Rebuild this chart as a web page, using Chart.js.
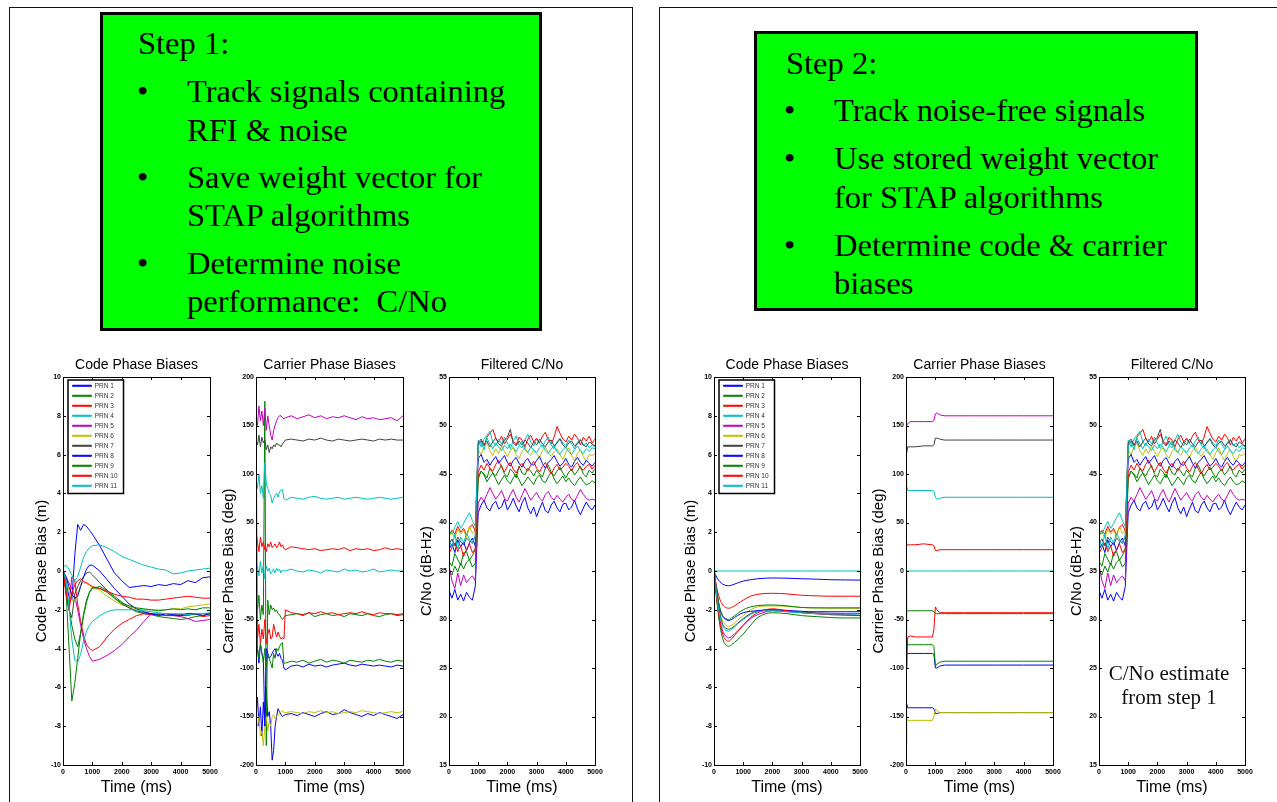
<!DOCTYPE html>
<html>
<head>
<meta charset="utf-8">
<script src="https://cdn.jsdelivr.net/npm/chart.js@4.4.1/dist/chart.umd.min.js"></script>
<style>
  html, body { margin: 0; padding: 0; background: #fff; }
  body { width: 1277px; height: 802px; position: relative; overflow: hidden; }
  .panel { position: absolute; border: 1.5px solid #111; box-sizing: border-box; }
  .step { position: absolute; background: #00ff00; border: 3px solid #000; box-sizing: border-box; }
  .txt { position: absolute; font-family: 'Liberation Serif', 'Times New Roman', serif; font-size: 32.5px; line-height: 40px; white-space: nowrap; color: #000; }
  .note { position: absolute; left: 1069px; top: 661px; width: 200px; text-align: center; font-family: 'Liberation Serif', 'Times New Roman', serif; font-size: 21px; line-height: 24px; color: #111; }
  canvas { position: absolute; top: 350px; }
</style>
</head>
<body>
<div class="panel" style="left:9px; top:7px; width:624px; height:900px;"></div>
<div class="panel" style="left:659px; top:7px; width:700px; height:900px;"></div>

<div class="step" style="left:100px; top:12px; width:442px; height:319px;"></div>
<div class="txt" style="left:138px; top:23px;">Step 1:</div>
<div class="txt" style="left:137px; top:71px;">•</div>
<div class="txt" style="left:187px; top:71px;">Track signals containing</div>
<div class="txt" style="left:187px; top:110px;">RFI &amp; noise</div>
<div class="txt" style="left:137px; top:157px;">•</div>
<div class="txt" style="left:187px; top:157px;">Save weight vector for</div>
<div class="txt" style="left:187px; top:195px;">STAP algorithms</div>
<div class="txt" style="left:137px; top:243px;">•</div>
<div class="txt" style="left:187px; top:243px;">Determine noise</div>
<div class="txt" style="left:187px; top:281px;">performance:&nbsp; C/No</div>

<div class="step" style="left:754px; top:31px; width:444px; height:280px;"></div>
<div class="txt" style="left:786px; top:43px;">Step 2:</div>
<div class="txt" style="left:784px; top:90px;">•</div>
<div class="txt" style="left:834px; top:90px;">Track noise-free signals</div>
<div class="txt" style="left:784px; top:138px;">•</div>
<div class="txt" style="left:834px; top:138px;">Use stored weight vector</div>
<div class="txt" style="left:834px; top:177px;">for STAP algorithms</div>
<div class="txt" style="left:784px; top:225px;">•</div>
<div class="txt" style="left:834px; top:225px;">Determine code &amp; carrier</div>
<div class="txt" style="left:834px; top:263px;">biases</div>

<canvas id="codeStep1"></canvas>
<canvas id="carrierStep1"></canvas>
<canvas id="cnoStep1"></canvas>
<canvas id="codeStep2"></canvas>
<canvas id="carrierStep2"></canvas>
<canvas id="cnoStep2"></canvas>

<div class="note">C/No estimate<br>from step 1</div>

<script>
// ---- labels / colours ----
const prnLabels = ['PRN 1', 'PRN 2', 'PRN 3', 'PRN 4', 'PRN 5', 'PRN 6', 'PRN 7', 'PRN 8', 'PRN 9', 'PRN 10', 'PRN 11'];
const prnColors = ['#0000ff', '#008000', '#ff0000', '#00bfbf', '#bf00bf', '#bfbf00', '#404040', '#0000ff', '#008000', '#ff0000', '#00bfbf'];

// ---- Step 1: code phase biases (m) ----
const timeCode1 = [0, 100, 200, 300, 400, 500, 600, 700, 800, 900, 1000, 1250, 1500, 1750, 2000, 2250, 2500, 2750, 3000, 3250, 3500, 3750, 4000, 4250, 4500, 4750, 5000];
const code1Prn1 = [0, -0.5, -1.3, -1.5, 0.8, 2.4, 2.1, 2.4, 2.3, 2.1, 1.9, 1.3, 0.6, -0.1, -0.5, -0.85, -0.8, -0.75, -0.8, -0.7, -0.75, -0.65, -0.7, -0.5, -0.6, -0.35, -0.3];
const code1Prn2 = [0, -1.0, -3.8, -6.7, -5.8, -4.5, -3.2, -2.3, -1.6, -1.1, -0.9, -0.8, -1.0, -1.3, -1.6, -1.9, -2.1, -2.2, -2.25, -2.35, -2.4, -2.45, -2.5, -2.45, -2.35, -2.3, -2.2];
const code1Prn3 = [0, -1.2, -1.9, -0.3, -0.5, -1.7, -2.6, -3.3, -3.8, -4.0, -4.1, -3.9, -3.4, -3.0, -2.7, -2.5, -2.3, -2.2, -2.25, -2.2, -2.3, -2.25, -2.3, -2.3, -2.2, -2.35, -2.3];
const code1Prn4 = [0.2, 0.3, 0.1, -0.2, -0.5, -0.3, 0.2, 0.7, 1.0, 1.2, 1.3, 1.35, 1.2, 1.0, 0.75, 0.6, 0.45, 0.3, 0.2, 0.1, 0.05, -0.15, -0.1, 0.0, 0.05, 0.1, 0.15];
const code1Prn5 = [0, -0.3, -0.6, -0.9, -1.3, -2.0, -2.8, -3.5, -4.0, -4.4, -4.65, -4.55, -4.35, -4.1, -3.8, -3.4, -3.05, -2.6, -2.2, -2.25, -2.3, -2.3, -2.35, -2.45, -2.6, -2.55, -2.5];
const code1Prn6 = [0, -0.4, -1.0, -1.5, -1.6, -1.2, -0.7, -0.6, -0.65, -0.75, -0.85, -1.0, -1.3, -1.55, -1.75, -1.85, -1.95, -2.0, -2.0, -2.0, -2.0, -1.95, -1.95, -1.85, -1.8, -1.75, -1.7];
const code1Prn7 = [0, -1.0, -2.0, -2.4, -1.2, -0.8, -0.5, -0.3, -0.1, -0.05, -0.2, -0.6, -1.0, -1.4, -1.7, -1.9, -2.05, -2.15, -2.2, -2.25, -2.2, -2.3, -2.25, -2.2, -2.25, -2.2, -2.2];
const code1Prn8 = [0, -0.3, -0.8, -1.2, -1.4, -1.3, -0.8, -0.3, 0.1, 0.3, 0.3, 0.0, -0.45, -0.9, -1.3, -1.7, -1.95, -2.1, -2.2, -2.3, -2.2, -2.25, -2.3, -2.2, -2.2, -2.3, -2.2];
const code1Prn9 = [0, -0.6, -1.8, -2.8, -3.5, -3.9, -3.2, -2.2, -1.5, -1.1, -0.85, -0.9, -1.1, -1.4, -1.65, -1.8, -1.9, -1.95, -2.0, -2.05, -2.0, -1.95, -2.0, -1.95, -2.0, -1.9, -1.9];
const code1Prn10 = [0, -1.0, -2.0, -1.2, -0.7, -0.5, -0.4, -0.55, -0.6, -0.7, -0.8, -0.9, -1.05, -1.2, -1.3, -1.35, -1.45, -1.45, -1.5, -1.5, -1.45, -1.4, -1.35, -1.3, -1.35, -1.4, -1.4];
const code1Prn11 = [0, -0.5, -1.8, -3.5, -4.6, -4.7, -4.3, -3.6, -3.1, -2.8, -2.6, -2.3, -2.1, -2.0, -2.0, -2.0, -2.0, -2.05, -2.1, -2.15, -2.2, -2.2, -2.2, -2.25, -2.2, -2.2, -2.15];

// ---- Step 1: carrier phase biases (deg) ----
const timeCarrier1 = [0, 50, 100, 150, 200, 250, 300, 350, 400, 450, 500, 550, 600, 650, 700, 750, 800, 850, 900, 950, 1000,
  1200, 1400, 1600, 1800, 2000, 2200, 2400, 2600, 2800, 3000, 3200, 3400, 3600, 3800, 4000, 4200, 4400, 4600, 4800, 5000];
const carrier1Prn1 = [-150, -130, -160, -140, -170, -135, -160, -120, -150, -145, -160, -195, -185, -160, -150, -142, -145, -148, -150, -149, -148,
  -147, -149, -146, -148, -150, -147, -145, -148, -147, -143, -146, -148, -150, -147, -149, -146, -148, -150, -152, -148];
const carrier1Prn2 = [-30, -40, -25, -50, -35, -45, 175, -180, -30, -45, -35, -40, -38, -42, -40, -44, -45, -48, -50, -48, -46,
  -45, -44, -46, -43, -47, -45, -44, -46, -45, -47, -44, -45, -46, -44, -46, -47, -45, -44, -46, -45];
const carrier1Prn3 = [40, 30, 20, 35, 25, 30, 22, 20, 28, 25, 30, 24, 26, 28, 24, 26, 30, 25, 27, 23, 22,
  25, 24, 23, 22, 23, 21, 22, 23, 22, 24, 21, 23, 22, 23, 21, 22, 24, 22, 23, 22];
const carrier1Prn4 = [95, 85, 100, 80, 88, 75, 112, 90, 85, 80, 78, 70, 75, 78, 80, 76, 82, 83, 84, 75, 73,
  76, 75, 74, 76, 77, 75, 74, 75, 76, 74, 75, 76, 75, 74, 75, 76, 75, 74, 75, 76];
const carrier1Prn5 = [160, 150, 170, 155, 165, 150, 168, 145, 160, 150, 140, 135, 145, 150, 155, 158, 160, 160, 158, 157, 158,
  160, 157, 159, 161, 158, 160, 157, 159, 158, 160, 158, 156, 159, 157, 158, 156, 157, 158, 155, 160];
const carrier1Prn6 = [-155, -160, -150, -170, -165, -180, -160, -150, -165, -155, -160, -150, -148, -152, -150, -148, -147, -145, -144, -146, -146,
  -145, -146, -147, -145, -146, -144, -146, -145, -147, -146, -145, -146, -144, -145, -146, -147, -146, -145, -146, -145];
const carrier1Prn7 = [135, 130, 140, 128, 138, 132, 135, 125, 130, 122, 128, 126, 130, 128, 132, 130, 130, 128, 131, 133, 135,
  136, 135, 134, 136, 135, 137, 135, 134, 136, 135, 134, 135, 136, 135, 134, 136, 135, 136, 135, 135];
const carrier1Prn8 = [-90, -80, -95, -75, -85, -90, -160, -80, -85, -90, -88, -85, -82, -80, -85, -88, -85, -90, -92, -100, -102,
  -98, -97, -99, -96, -98, -97, -99, -97, -96, -95, -97, -98, -96, -97, -98, -97, -98, -99, -97, -98];
const carrier1Prn9 = [180, -80, -90, -75, -85, -95, -80, -100, -85, -90, -95, -100, -85, -90, -80, -82, -78, -75, -74, -95, -95,
  -93, -94, -92, -95, -93, -91, -94, -92, -93, -95, -92, -93, -94, -92, -93, -91, -93, -94, -92, -93];
const carrier1Prn10 = [-50, -70, -55, -75, -60, -70, -50, -75, -65, -60, -70, -68, -55, -62, -68, -63, -67, -70, -69, -70, -40,
  -43, -44, -45, -43, -44, -42, -44, -43, -45, -44, -43, -44, -42, -44, -45, -43, -44, -44, -45, -44];
const carrier1Prn11 = [0, 5, -5, 10, -2, 6, -8, 5, 0, 3, -3, -1, 2, -2, 3, 0, 2, -2, 1, 0, 0,
  2, 0, -1, 1, 0, -2, 1, 0, -1, 2, 0, 1, -1, 0, 2, -1, 0, 1, 0, 0];

// ---- Filtered C/No (dB-Hz), same estimate in both steps ----
const timeCno = [0, 100, 200, 300, 400, 500, 600, 700, 800, 900,
  1000, 1100, 1200, 1300, 1400, 1500, 1600, 1700, 1800, 1900,
  2000, 2100, 2200, 2300, 2400, 2500, 2600, 2700, 2800, 2900,
  3000, 3100, 3200, 3300, 3400, 3500, 3600, 3700, 3800, 3900,
  4000, 4100, 4200, 4300, 4400, 4500, 4600, 4700, 4800, 4900, 5000];
const cnoPrn1 = [33.0, 32.2, 33.1, 32.0, 32.6, 31.9, 32.8, 32.3, 32.0, 33.4,
  41.0, 41.8, 42.3, 41.5, 41.2, 41.9, 42.2, 41.4, 41.6, 42.4,
  41.3, 41.8, 42.5, 41.7, 41.1, 42.0, 42.6, 41.5, 40.9, 41.6,
  40.6, 41.4, 42.1, 41.2, 41.0, 41.8, 42.2, 41.5, 41.1, 41.9,
  42.0, 41.3, 41.6, 42.3, 41.4, 40.8, 41.5, 42.1, 41.6, 41.3, 41.8];
const cnoPrn2 = [36.0, 35.5, 36.8, 36.2, 35.6, 36.9, 37.0, 36.1, 36.6, 37.2,
  44.5, 45.3, 45.0, 44.6, 45.6, 45.1, 44.8, 45.4, 45.9, 45.0,
  44.7, 45.5, 45.2, 44.6, 45.8, 45.1, 44.9, 45.6, 45.3, 44.8,
  45.4, 45.0, 44.7, 45.6, 45.9, 45.2, 44.8, 45.3, 45.7, 45.1,
  44.6, 45.2, 45.5, 44.9, 45.3, 45.8, 45.0, 44.7, 45.4, 45.1, 45.5];
const cnoPrn3 = [38.6, 39.2, 38.8, 39.6, 39.0, 39.4, 38.7, 39.5, 39.8, 39.1,
  48.0, 48.4, 47.9, 48.8, 49.2, 49.6, 48.7, 48.3, 48.9, 48.1,
  48.6, 49.1, 48.4, 48.0, 48.8, 48.5, 47.8, 48.6, 49.0, 48.3,
  48.7, 48.2, 48.9, 49.3, 48.5, 48.1, 48.8, 49.9, 49.2, 48.6,
  48.3, 48.9, 48.5, 49.1, 48.7, 48.0, 48.8, 48.4, 48.9, 48.2, 48.6];
const cnoPrn4 = [39.2, 38.8, 39.5, 40.1, 39.4, 39.9, 40.5, 41.0, 40.2, 39.6,
  48.5, 47.8, 48.6, 49.0, 49.4, 48.3, 47.9, 48.6, 48.1, 48.8,
  48.2, 47.6, 48.4, 48.9, 48.0, 47.7, 48.5, 49.1, 48.3, 47.9,
  48.6, 48.1, 47.8, 48.4, 48.8, 48.0, 47.6, 48.3, 48.7, 48.2,
  47.9, 48.5, 48.1, 47.6, 48.3, 48.6, 47.9, 48.2, 47.7, 48.0, 47.8];
const cnoPrn5 = [35.6, 34.0, 33.2, 34.8, 33.5, 34.6, 33.8, 34.2, 34.5, 34.0,
  42.0, 42.6, 42.2, 42.9, 43.6, 43.0, 42.4, 42.8, 43.3, 42.5,
  42.2, 42.9, 43.4, 42.6, 42.1, 42.8, 43.5, 42.9, 42.3, 42.7,
  43.1, 42.5, 42.2, 42.9, 43.2, 42.6, 42.3, 42.8, 42.4, 42.1,
  42.6, 42.9, 42.4, 42.2, 42.8, 43.4, 42.9, 42.5, 42.3, 42.4, 42.3];
const cnoPrn6 = [38.6, 39.0, 38.4, 39.3, 38.8, 39.2, 38.5, 39.6, 38.9, 39.1,
  47.5, 47.0, 47.8, 48.2, 47.4, 46.9, 47.6, 47.1, 47.9, 47.3,
  46.8, 47.4, 47.7, 47.0, 46.6, 47.3, 47.8, 47.2, 46.9, 47.5,
  47.1, 46.7, 47.4, 47.8, 47.2, 46.8, 47.3, 47.6, 47.0, 46.5,
  47.2, 47.7, 46.9, 46.4, 47.1, 47.5, 46.8, 46.3, 47.0, 46.9, 47.1];
const cnoPrn7 = [37.8, 38.3, 37.6, 38.5, 38.0, 37.7, 38.4, 38.1, 37.9, 38.6,
  48.2, 48.6, 48.0, 48.4, 47.8, 48.3, 48.7, 48.1, 47.9, 48.5,
  48.8, 49.6, 48.2, 47.9, 48.4, 48.0, 48.5, 48.2, 47.7, 48.3,
  48.0, 48.6, 48.1, 47.8, 48.3, 48.5, 47.9, 48.2, 48.6, 48.0,
  47.7, 48.2, 48.4, 47.9, 48.1, 48.5, 48.0, 47.8, 48.3, 48.1, 47.9];
const cnoPrn8 = [37.2, 37.8, 36.9, 38.2, 37.5, 38.0, 37.1, 37.9, 38.4, 37.6,
  46.6, 47.0, 46.2, 46.5, 45.9, 46.4, 46.8, 46.1, 46.5, 46.9,
  46.2, 45.8, 46.4, 46.7, 46.1, 45.7, 46.3, 46.6, 46.0, 45.9,
  46.4, 46.8, 46.1, 45.6, 46.2, 46.5, 46.9, 46.3, 45.8, 46.1,
  46.6, 46.0, 45.7, 46.3, 46.7, 46.2, 45.9, 46.4, 46.1, 45.8, 46.2];
const cnoPrn9 = [35.0, 34.6, 35.5, 34.9, 35.8, 35.2, 35.9, 36.2, 35.4, 35.8,
  44.8, 45.3, 44.9, 44.2, 44.7, 45.1, 44.5, 43.9, 44.4, 44.9,
  44.3, 44.0, 44.6, 45.0, 44.4, 43.8, 44.2, 44.7, 44.3, 43.9,
  44.6, 44.9, 44.3, 44.1, 44.7, 45.2, 44.5, 44.0, 44.4, 44.8,
  44.2, 44.6, 44.1, 43.8, 44.3, 44.7, 44.2, 43.9, 44.0, 44.3, 44.1];
const cnoPrn10 = [36.8, 37.4, 37.9, 37.0, 37.6, 36.5, 37.2, 37.8, 36.9, 37.3,
  45.2, 45.9, 45.4, 46.1, 45.6, 45.3, 46.0, 46.4, 45.7, 45.2,
  45.8, 46.2, 45.5, 45.1, 45.7, 46.1, 45.6, 45.3, 45.9, 46.3,
  45.6, 45.2, 45.8, 46.2, 45.5, 45.0, 45.6, 46.0, 45.4, 45.7,
  46.1, 45.8, 45.3, 45.9, 46.2, 45.6, 45.4, 45.8, 46.0, 45.5, 45.9];
const cnoPrn11 = [38.2, 37.5, 38.8, 37.2, 38.5, 37.9, 38.9, 38.3, 37.8, 38.6,
  47.9, 48.3, 47.5, 48.7, 48.1, 47.6, 48.2, 47.8, 47.4, 48.0,
  47.6, 48.1, 47.7, 47.3, 47.9, 48.4, 47.5, 47.2, 47.8, 47.5,
  47.2, 47.7, 48.0, 47.4, 47.1, 47.6, 47.9, 47.3, 47.0, 47.5,
  47.8, 47.3, 47.0, 47.5, 47.9, 47.4, 47.1, 47.6, 47.3, 47.7, 47.6];

// ---- Step 2: code phase biases (m) ----
const timeCode2 = [0, 100, 200, 300, 400, 500, 600, 800, 1000, 1250, 1500, 2000, 2500, 3000, 3500, 4000, 4500, 5000];
const code2Prn1 = [0, -0.35, -0.55, -0.68, -0.74, -0.76, -0.73, -0.62, -0.52, -0.45, -0.4, -0.36, -0.37, -0.4, -0.42, -0.45, -0.46, -0.47];
const code2Prn2 = [0, -1.6, -2.8, -3.5, -3.8, -3.88, -3.8, -3.55, -3.25, -2.8, -2.4, -2.15, -2.2, -2.3, -2.35, -2.4, -2.42, -2.42];
const code2Prn3 = [0, -0.9, -1.45, -1.75, -1.88, -1.92, -1.88, -1.7, -1.5, -1.3, -1.2, -1.15, -1.18, -1.25, -1.28, -1.3, -1.3, -1.3];
const code2Prn4 = [0, 0, 0, 0, 0, 0, 0, 0, 0, 0, 0, 0, 0, 0, 0, 0, 0, 0];
const code2Prn5 = [0, -1.4, -2.5, -3.1, -3.35, -3.45, -3.38, -3.1, -2.8, -2.45, -2.25, -2.05, -2.1, -2.15, -2.2, -2.25, -2.25, -2.3];
const code2Prn6 = [0, -1.2, -2.1, -2.6, -2.78, -2.85, -2.8, -2.55, -2.3, -2.0, -1.85, -1.8, -1.82, -1.88, -1.9, -1.92, -1.92, -1.92];
const code2Prn7 = [0, -1.3, -2.2, -2.75, -2.95, -3.0, -2.95, -2.7, -2.45, -2.2, -2.05, -2.0, -2.05, -2.12, -2.16, -2.18, -2.2, -2.2];
const code2Prn8 = [0, -1.1, -1.95, -2.35, -2.5, -2.55, -2.5, -2.3, -2.15, -2.08, -2.05, -2.0, -2.03, -2.08, -2.1, -2.1, -2.1, -2.1];
const code2Prn9 = [0, -1.1, -1.9, -2.3, -2.45, -2.5, -2.42, -2.2, -2.0, -1.85, -1.78, -1.75, -1.8, -1.88, -1.9, -1.9, -1.9, -1.9];
const code2Prn10 = [0, -1.5, -2.6, -3.25, -3.55, -3.62, -3.5, -3.15, -2.8, -2.4, -2.15, -1.95, -2.05, -2.15, -2.2, -2.25, -2.28, -2.3];
const code2Prn11 = [0, -1.35, -2.3, -2.85, -3.05, -3.1, -3.02, -2.75, -2.5, -2.25, -2.1, -2.05, -2.1, -2.15, -2.2, -2.22, -2.22, -2.22];

// ---- Step 2: carrier phase biases (deg) ----
const timeCarrier2 = [0, 20, 60, 150, 300, 600, 900, 950, 1000, 1050, 1150, 1300, 2000, 3000, 4000, 5000];
const carrier2Prn1 = [-180, -137, -141, -141, -141, -141, -141, -142, -147, -147, -146, -146, -146, -146, -146, -146];
const carrier2Prn2 = [-50, -42, -41, -41, -41, -41, -41, -42, -44, -44, -44, -44, -44, -44, -44, -44];
const carrier2Prn3 = [30, 26, 27, 27, 27, 28, 27, 26, 21, 21, 22, 22, 22, 22, 22, 22];
const carrier2Prn4 = [95, 88, 83, 83, 83, 83, 83, 82, 76, 74, 75, 76, 76, 76, 76, 76];
const carrier2Prn5 = [145, 150, 152, 154, 154, 154, 154, 155, 162, 163, 161, 160, 160, 160, 160, 160];
const carrier2Prn6 = [-150, -153, -154, -154, -154, -154, -154, -150, -142, -144, -146, -146, -146, -146, -146, -146];
const carrier2Prn7 = [125, 122, 128, 128, 128, 129, 129, 130, 137, 137, 136, 135, 135, 135, 135, 135];
const carrier2Prn8 = [-100, -86, -85, -85, -85, -85, -85, -86, -100, -100, -98, -97, -97, -97, -97, -97];
const carrier2Prn9 = [-100, -78, -76, -76, -76, -76, -76, -78, -98, -96, -94, -93, -93, -93, -93, -93];
const carrier2Prn10 = [0, -100, -68, -67, -68, -68, -68, -60, -37, -40, -43, -43, -43, -43, -43, -43];
const carrier2Prn11 = [0, 0, 0, 0, 0, 0, 0, 0, 0, 0, 0, 0, 0, 0, 0, 0];

const code1Series = [code1Prn1, code1Prn2, code1Prn3, code1Prn4, code1Prn5, code1Prn6, code1Prn7, code1Prn8, code1Prn9, code1Prn10, code1Prn11];
const carrier1Series = [carrier1Prn1, carrier1Prn2, carrier1Prn3, carrier1Prn4, carrier1Prn5, carrier1Prn6, carrier1Prn7, carrier1Prn8, carrier1Prn9, carrier1Prn10, carrier1Prn11];
const cnoSeries = [cnoPrn1, cnoPrn2, cnoPrn3, cnoPrn4, cnoPrn5, cnoPrn6, cnoPrn7, cnoPrn8, cnoPrn9, cnoPrn10, cnoPrn11];
const code2Series = [code2Prn1, code2Prn2, code2Prn3, code2Prn4, code2Prn5, code2Prn6, code2Prn7, code2Prn8, code2Prn9, code2Prn10, code2Prn11];
const carrier2Series = [carrier2Prn1, carrier2Prn2, carrier2Prn3, carrier2Prn4, carrier2Prn5, carrier2Prn6, carrier2Prn7, carrier2Prn8, carrier2Prn9, carrier2Prn10, carrier2Prn11];

Chart.defaults.font.family = "'Liberation Sans', Arial, sans-serif";
Chart.defaults.color = '#000';
Chart.defaults.animation = false;

// matlab style box with inward ticks, plus outline round the legend
const frame = {
    id: 'frame',
    afterDraw(chart) {
        const {ctx, chartArea: a, scales} = chart;
        ctx.save();
        ctx.strokeStyle = '#000';
        ctx.lineWidth = 1;
        ctx.beginPath();
        scales.x.ticks.forEach(t => {
            const px = Math.round(scales.x.getPixelForValue(t.value)) + 0.5;
            ctx.moveTo(px, a.bottom); ctx.lineTo(px, a.bottom - 3);
            ctx.moveTo(px, a.top); ctx.lineTo(px, a.top + 3);
        });
        scales.y.ticks.forEach(t => {
            const py = Math.round(scales.y.getPixelForValue(t.value)) + 0.5;
            ctx.moveTo(a.left, py); ctx.lineTo(a.left + 3, py);
            ctx.moveTo(a.right, py); ctx.lineTo(a.right - 3, py);
        });
        ctx.stroke();
        ctx.strokeRect(Math.round(a.left) + 0.5, Math.round(a.top) + 0.5, Math.round(a.width), Math.round(a.height));

        const lg = chart.legend;
        if (lg && lg.options.display) {
            const lab = lg.options.labels;
            const fs = lab.font.size, pad = lab.padding;
            ctx.font = fs + 'px ' + Chart.defaults.font.family;
            const tw = Math.max(...lg.legendItems.map(it => ctx.measureText(it.text).width));
            const x0 = lg.left + pad - 4.5;
            const y0 = lg.top + pad - 2.5;
            const x1 = lg.left + pad + lab.boxWidth + fs / 2 + tw + 6;
            const y1 = lg.top + pad + lg.legendItems.length * (fs + pad) + 1;
            ctx.lineWidth = 1.5;
            ctx.strokeRect(x0, y0, x1 - x0, y1 - y0);
        }
        ctx.restore();
    }
};

// put the legend inside the plot, near the top left corner
const legendShift = {
    id: 'legendShift',
    afterLayout(chart) {
        if (chart.options.plugins.legend.display) {
            chart.legend.left = chart.chartArea.left + 6;
            chart.legend.top = chart.chartArea.top + 2;
        }
    }
};

function makeChart(id, cfg) {
    const canvas = document.getElementById(id);
    canvas.width = cfg.width;
    canvas.height = 452;
    canvas.style.left = cfg.left + 'px';

    const datasets = cfg.series.map((vals, i) => ({
        label: prnLabels[i],
        data: cfg.times.map((t, k) => ({x: t, y: vals[k]})),
        borderColor: prnColors[i],
        backgroundColor: prnColors[i],
        borderWidth: 1,
        pointRadius: 0,
        tension: cfg.smooth ? 0.4 : 0,
        cubicInterpolationMode: cfg.smooth ? 'monotone' : 'default',
        order: prnLabels.length - i
    }));

    return new Chart(canvas, {
        type: 'line',
        data: { datasets: datasets },
        options: {
            responsive: false,
            maintainAspectRatio: false,
            layout: { padding: { left: 0, right: 12, top: 0, bottom: 0 } },
            plugins: {
                title: {
                    display: true,
                    text: cfg.title,
                    fullSize: false,
                    color: '#000',
                    font: { size: 14, weight: 'normal' },
                    padding: { top: 6.6, bottom: 3.6 }
                },
                legend: {
                    display: !!cfg.legend,
                    position: 'chartArea',
                    align: 'start',
                    labels: {
                        boxWidth: 19,
                        boxHeight: 1,
                        padding: 3.5,
                        color: '#333',
                        font: { size: 6.5 },
                        sort: (a, b) => a.datasetIndex - b.datasetIndex
                    }
                },
                tooltip: { enabled: false }
            },
            scales: {
                x: {
                    type: 'linear',
                    min: 0,
                    max: 5000,
                    grid: { display: false, drawTicks: false },
                    border: { display: false },
                    ticks: { stepSize: 1000, autoSkip: false, maxRotation: 0, padding: 3, font: { size: 7, weight: 'bold' }, callback: v => v },
                    title: { display: true, text: 'Time (ms)', font: { size: 16 }, padding: { top: 0, bottom: 5 } },
                    afterFit: s => { s.height = 37; }
                },
                y: {
                    min: cfg.min,
                    max: cfg.max,
                    grid: { display: false, drawTicks: false },
                    border: { display: false },
                    ticks: { stepSize: cfg.step, autoSkip: false, padding: 2, font: { size: 7, weight: 'bold' }, callback: v => v },
                    title: { display: true, text: cfg.yTitle, font: { size: 15 }, padding: 0 },
                    afterFit: s => { s.width = cfg.yWidth; }
                }
            }
        },
        plugins: [legendShift, frame]
    });
}

makeChart('codeStep1', { left: 33, width: 189, yWidth: 30, title: 'Code Phase Biases', yTitle: 'Code Phase Bias (m)', min: -10, max: 10, step: 2, times: timeCode1, series: code1Series, legend: true });
makeChart('carrierStep1', { left: 220, width: 195, yWidth: 36, title: 'Carrier Phase Biases', yTitle: 'Carrier Phase Bias (deg)', min: -200, max: 200, step: 50, times: timeCarrier1, series: carrier1Series });
makeChart('cnoStep1', { left: 418, width: 189, yWidth: 31, title: 'Filtered C/No', yTitle: 'C/No (dB-Hz)', min: 15, max: 55, step: 5, times: timeCno, series: cnoSeries });
makeChart('codeStep2', { left: 682, width: 190, yWidth: 32, title: 'Code Phase Biases', yTitle: 'Code Phase Bias (m)', min: -10, max: 10, step: 2, times: timeCode2, series: code2Series, legend: true, smooth: true });
makeChart('carrierStep2', { left: 870, width: 195, yWidth: 36, title: 'Carrier Phase Biases', yTitle: 'Carrier Phase Bias (deg)', min: -200, max: 200, step: 50, times: timeCarrier2, series: carrier2Series });
makeChart('cnoStep2', { left: 1068, width: 189, yWidth: 31, title: 'Filtered C/No', yTitle: 'C/No (dB-Hz)', min: 15, max: 55, step: 5, times: timeCno, series: cnoSeries });
</script>
</body>
</html>
